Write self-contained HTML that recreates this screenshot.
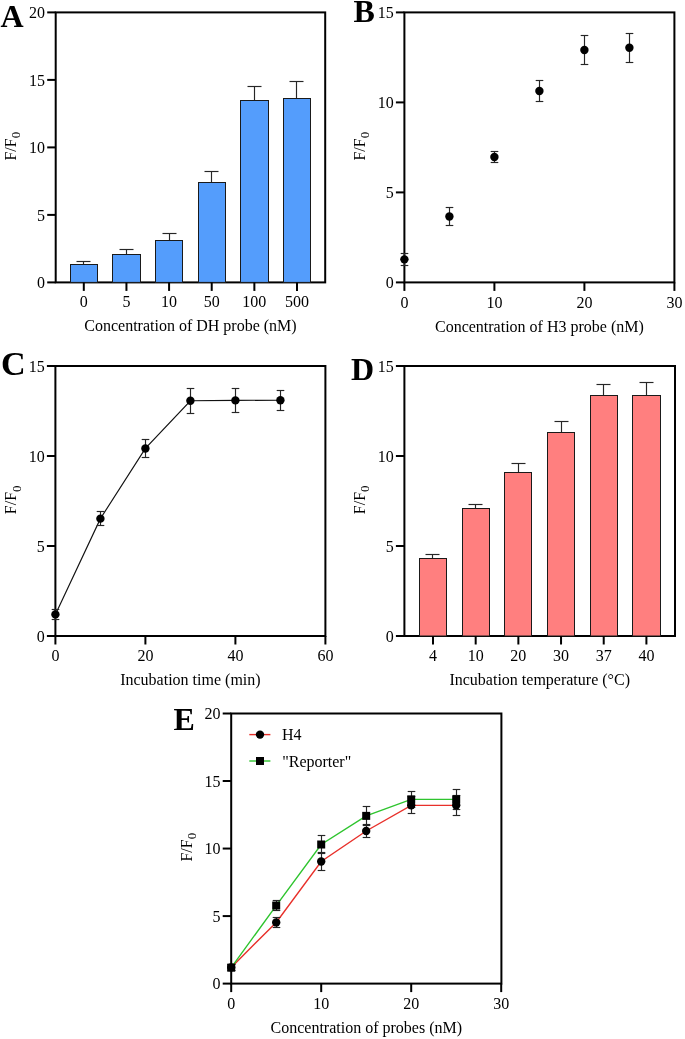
<!DOCTYPE html>
<html><head><meta charset="utf-8"><style>
html,body{margin:0;padding:0;background:#fff;}
svg{display:block;will-change:transform;}
text{font-family:"Liberation Serif", serif;fill:#000;}
</style></head><body>
<svg width="685" height="1039" viewBox="0 0 685 1039">
<rect width="685" height="1039" fill="#fff"/>
<rect x="55.70" y="12.40" width="269.50" height="270.00" fill="none" stroke="#000" stroke-width="2.0"/>
<line x1="47.20" y1="282.40" x2="55.70" y2="282.40" stroke="#000" stroke-width="2.0"/>
<text x="45.00" y="288.20" text-anchor="end" font-size="16" font-weight="normal" >0</text>
<line x1="47.20" y1="214.90" x2="55.70" y2="214.90" stroke="#000" stroke-width="2.0"/>
<text x="45.00" y="220.70" text-anchor="end" font-size="16" font-weight="normal" >5</text>
<line x1="47.20" y1="147.40" x2="55.70" y2="147.40" stroke="#000" stroke-width="2.0"/>
<text x="45.00" y="153.20" text-anchor="end" font-size="16" font-weight="normal" >10</text>
<line x1="47.20" y1="79.90" x2="55.70" y2="79.90" stroke="#000" stroke-width="2.0"/>
<text x="45.00" y="85.70" text-anchor="end" font-size="16" font-weight="normal" >15</text>
<line x1="47.20" y1="12.40" x2="55.70" y2="12.40" stroke="#000" stroke-width="2.0"/>
<text x="45.00" y="18.20" text-anchor="end" font-size="16" font-weight="normal" >20</text>
<line x1="83.50" y1="261.50" x2="83.50" y2="264.98" stroke="#262626" stroke-width="1.15"/>
<line x1="76.50" y1="261.50" x2="90.50" y2="261.50" stroke="#262626" stroke-width="1.15"/>
<rect x="70.50" y="264.50" width="27.00" height="17.90" fill="#549dfc" stroke="#1a1a1a" stroke-width="1"/>
<line x1="126.50" y1="249.50" x2="126.50" y2="254.05" stroke="#262626" stroke-width="1.15"/>
<line x1="119.50" y1="249.50" x2="133.50" y2="249.50" stroke="#262626" stroke-width="1.15"/>
<rect x="112.50" y="254.50" width="28.00" height="27.90" fill="#549dfc" stroke="#1a1a1a" stroke-width="1"/>
<line x1="169.50" y1="233.50" x2="169.50" y2="240.55" stroke="#262626" stroke-width="1.15"/>
<line x1="162.50" y1="233.50" x2="176.50" y2="233.50" stroke="#262626" stroke-width="1.15"/>
<rect x="155.50" y="240.50" width="27.00" height="41.90" fill="#549dfc" stroke="#1a1a1a" stroke-width="1"/>
<line x1="211.50" y1="171.50" x2="211.50" y2="182.63" stroke="#262626" stroke-width="1.15"/>
<line x1="204.50" y1="171.50" x2="218.50" y2="171.50" stroke="#262626" stroke-width="1.15"/>
<rect x="198.50" y="182.50" width="27.00" height="99.90" fill="#549dfc" stroke="#1a1a1a" stroke-width="1"/>
<line x1="254.50" y1="86.50" x2="254.50" y2="100.28" stroke="#262626" stroke-width="1.15"/>
<line x1="247.50" y1="86.50" x2="261.50" y2="86.50" stroke="#262626" stroke-width="1.15"/>
<rect x="240.50" y="100.50" width="28.00" height="181.90" fill="#549dfc" stroke="#1a1a1a" stroke-width="1"/>
<line x1="296.50" y1="81.50" x2="296.50" y2="98.39" stroke="#262626" stroke-width="1.15"/>
<line x1="289.50" y1="81.50" x2="303.50" y2="81.50" stroke="#262626" stroke-width="1.15"/>
<rect x="283.50" y="98.50" width="27.00" height="183.90" fill="#549dfc" stroke="#1a1a1a" stroke-width="1"/>
<line x1="83.80" y1="282.40" x2="83.80" y2="290.90" stroke="#000" stroke-width="2.0"/>
<text x="83.80" y="307.20" text-anchor="middle" font-size="16" font-weight="normal" >0</text>
<line x1="126.44" y1="282.40" x2="126.44" y2="290.90" stroke="#000" stroke-width="2.0"/>
<text x="126.44" y="307.20" text-anchor="middle" font-size="16" font-weight="normal" >5</text>
<line x1="169.08" y1="282.40" x2="169.08" y2="290.90" stroke="#000" stroke-width="2.0"/>
<text x="169.08" y="307.20" text-anchor="middle" font-size="16" font-weight="normal" >10</text>
<line x1="211.72" y1="282.40" x2="211.72" y2="290.90" stroke="#000" stroke-width="2.0"/>
<text x="211.72" y="307.20" text-anchor="middle" font-size="16" font-weight="normal" >50</text>
<line x1="254.36" y1="282.40" x2="254.36" y2="290.90" stroke="#000" stroke-width="2.0"/>
<text x="254.36" y="307.20" text-anchor="middle" font-size="16" font-weight="normal" >100</text>
<line x1="297.00" y1="282.40" x2="297.00" y2="290.90" stroke="#000" stroke-width="2.0"/>
<text x="297.00" y="307.20" text-anchor="middle" font-size="16" font-weight="normal" >500</text>
<text x="190.45" y="331.40" text-anchor="middle" font-size="16" font-weight="normal" >Concentration of DH probe (nM)</text>
<text transform="translate(15.90,146.20) rotate(-90)" text-anchor="middle" font-size="16">F/F<tspan font-size="13" dy="4.3">0</tspan></text>
<text x="0.50" y="26.80" text-anchor="start" font-size="32" font-weight="bold" >A</text>
<rect x="404.40" y="12.40" width="270.00" height="270.00" fill="none" stroke="#000" stroke-width="2.0"/>
<line x1="395.90" y1="282.40" x2="404.40" y2="282.40" stroke="#000" stroke-width="2.0"/>
<text x="393.70" y="288.20" text-anchor="end" font-size="16" font-weight="normal" >0</text>
<line x1="395.90" y1="192.40" x2="404.40" y2="192.40" stroke="#000" stroke-width="2.0"/>
<text x="393.70" y="198.20" text-anchor="end" font-size="16" font-weight="normal" >5</text>
<line x1="395.90" y1="102.40" x2="404.40" y2="102.40" stroke="#000" stroke-width="2.0"/>
<text x="393.70" y="108.20" text-anchor="end" font-size="16" font-weight="normal" >10</text>
<line x1="395.90" y1="12.40" x2="404.40" y2="12.40" stroke="#000" stroke-width="2.0"/>
<text x="393.70" y="18.20" text-anchor="end" font-size="16" font-weight="normal" >15</text>
<line x1="404.40" y1="282.40" x2="404.40" y2="290.90" stroke="#000" stroke-width="2.0"/>
<text x="404.40" y="307.90" text-anchor="middle" font-size="16" font-weight="normal" >0</text>
<line x1="494.40" y1="282.40" x2="494.40" y2="290.90" stroke="#000" stroke-width="2.0"/>
<text x="494.40" y="307.90" text-anchor="middle" font-size="16" font-weight="normal" >10</text>
<line x1="584.40" y1="282.40" x2="584.40" y2="290.90" stroke="#000" stroke-width="2.0"/>
<text x="584.40" y="307.90" text-anchor="middle" font-size="16" font-weight="normal" >20</text>
<line x1="674.40" y1="282.40" x2="674.40" y2="290.90" stroke="#000" stroke-width="2.0"/>
<text x="674.40" y="307.90" text-anchor="middle" font-size="16" font-weight="normal" >30</text>
<line x1="404.50" y1="253.50" x2="404.50" y2="265.50" stroke="#262626" stroke-width="1.15"/>
<line x1="400.70" y1="253.50" x2="408.30" y2="253.50" stroke="#262626" stroke-width="1.15"/>
<line x1="400.70" y1="265.50" x2="408.30" y2="265.50" stroke="#262626" stroke-width="1.15"/>
<circle cx="404.40" cy="259.36" r="4.2" fill="#000"/>
<line x1="449.50" y1="207.50" x2="449.50" y2="225.50" stroke="#262626" stroke-width="1.15"/>
<line x1="445.70" y1="207.50" x2="453.30" y2="207.50" stroke="#262626" stroke-width="1.15"/>
<line x1="445.70" y1="225.50" x2="453.30" y2="225.50" stroke="#262626" stroke-width="1.15"/>
<circle cx="449.40" cy="216.52" r="4.2" fill="#000"/>
<line x1="494.50" y1="151.50" x2="494.50" y2="162.50" stroke="#262626" stroke-width="1.15"/>
<line x1="490.70" y1="151.50" x2="498.30" y2="151.50" stroke="#262626" stroke-width="1.15"/>
<line x1="490.70" y1="162.50" x2="498.30" y2="162.50" stroke="#262626" stroke-width="1.15"/>
<circle cx="494.40" cy="156.94" r="4.2" fill="#000"/>
<line x1="539.50" y1="80.50" x2="539.50" y2="101.50" stroke="#262626" stroke-width="1.15"/>
<line x1="535.70" y1="80.50" x2="543.30" y2="80.50" stroke="#262626" stroke-width="1.15"/>
<line x1="535.70" y1="101.50" x2="543.30" y2="101.50" stroke="#262626" stroke-width="1.15"/>
<circle cx="539.40" cy="91.06" r="4.2" fill="#000"/>
<line x1="584.50" y1="35.50" x2="584.50" y2="64.50" stroke="#262626" stroke-width="1.15"/>
<line x1="580.70" y1="35.50" x2="588.30" y2="35.50" stroke="#262626" stroke-width="1.15"/>
<line x1="580.70" y1="64.50" x2="588.30" y2="64.50" stroke="#262626" stroke-width="1.15"/>
<circle cx="584.40" cy="50.02" r="4.2" fill="#000"/>
<line x1="629.50" y1="33.50" x2="629.50" y2="62.50" stroke="#262626" stroke-width="1.15"/>
<line x1="625.70" y1="33.50" x2="633.30" y2="33.50" stroke="#262626" stroke-width="1.15"/>
<line x1="625.70" y1="62.50" x2="633.30" y2="62.50" stroke="#262626" stroke-width="1.15"/>
<circle cx="629.40" cy="47.68" r="4.2" fill="#000"/>
<text x="539.40" y="331.70" text-anchor="middle" font-size="16" font-weight="normal" >Concentration of H3 probe (nM)</text>
<text transform="translate(365.00,146.20) rotate(-90)" text-anchor="middle" font-size="16">F/F<tspan font-size="13" dy="4.3">0</tspan></text>
<text x="353.50" y="21.70" text-anchor="start" font-size="32" font-weight="bold" >B</text>
<rect x="55.40" y="366.00" width="270.00" height="270.00" fill="none" stroke="#000" stroke-width="2.0"/>
<line x1="46.90" y1="636.00" x2="55.40" y2="636.00" stroke="#000" stroke-width="2.0"/>
<text x="44.70" y="641.80" text-anchor="end" font-size="16" font-weight="normal" >0</text>
<line x1="46.90" y1="546.00" x2="55.40" y2="546.00" stroke="#000" stroke-width="2.0"/>
<text x="44.70" y="551.80" text-anchor="end" font-size="16" font-weight="normal" >5</text>
<line x1="46.90" y1="456.00" x2="55.40" y2="456.00" stroke="#000" stroke-width="2.0"/>
<text x="44.70" y="461.80" text-anchor="end" font-size="16" font-weight="normal" >10</text>
<line x1="46.90" y1="366.00" x2="55.40" y2="366.00" stroke="#000" stroke-width="2.0"/>
<text x="44.70" y="371.80" text-anchor="end" font-size="16" font-weight="normal" >15</text>
<line x1="55.40" y1="636.00" x2="55.40" y2="644.50" stroke="#000" stroke-width="2.0"/>
<text x="55.40" y="661.40" text-anchor="middle" font-size="16" font-weight="normal" >0</text>
<line x1="145.40" y1="636.00" x2="145.40" y2="644.50" stroke="#000" stroke-width="2.0"/>
<text x="145.40" y="661.40" text-anchor="middle" font-size="16" font-weight="normal" >20</text>
<line x1="235.40" y1="636.00" x2="235.40" y2="644.50" stroke="#000" stroke-width="2.0"/>
<text x="235.40" y="661.40" text-anchor="middle" font-size="16" font-weight="normal" >40</text>
<line x1="325.40" y1="636.00" x2="325.40" y2="644.50" stroke="#000" stroke-width="2.0"/>
<text x="325.40" y="661.40" text-anchor="middle" font-size="16" font-weight="normal" >60</text>
<path d="M55.40,614.40 L100.40,518.64 L145.40,448.44 L190.40,400.74 L235.40,400.38 L280.40,400.20" fill="none" stroke="#111" stroke-width="1.15"/>
<line x1="55.50" y1="609.50" x2="55.50" y2="619.50" stroke="#262626" stroke-width="1.15"/>
<line x1="51.70" y1="609.50" x2="59.30" y2="609.50" stroke="#262626" stroke-width="1.15"/>
<line x1="51.70" y1="619.50" x2="59.30" y2="619.50" stroke="#262626" stroke-width="1.15"/>
<circle cx="55.40" cy="614.40" r="4.2" fill="#000"/>
<line x1="100.50" y1="511.50" x2="100.50" y2="525.50" stroke="#262626" stroke-width="1.15"/>
<line x1="96.70" y1="511.50" x2="104.30" y2="511.50" stroke="#262626" stroke-width="1.15"/>
<line x1="96.70" y1="525.50" x2="104.30" y2="525.50" stroke="#262626" stroke-width="1.15"/>
<circle cx="100.40" cy="518.64" r="4.2" fill="#000"/>
<line x1="145.50" y1="439.50" x2="145.50" y2="457.50" stroke="#262626" stroke-width="1.15"/>
<line x1="141.70" y1="439.50" x2="149.30" y2="439.50" stroke="#262626" stroke-width="1.15"/>
<line x1="141.70" y1="457.50" x2="149.30" y2="457.50" stroke="#262626" stroke-width="1.15"/>
<circle cx="145.40" cy="448.44" r="4.2" fill="#000"/>
<line x1="190.50" y1="388.50" x2="190.50" y2="413.50" stroke="#262626" stroke-width="1.15"/>
<line x1="186.70" y1="388.50" x2="194.30" y2="388.50" stroke="#262626" stroke-width="1.15"/>
<line x1="186.70" y1="413.50" x2="194.30" y2="413.50" stroke="#262626" stroke-width="1.15"/>
<circle cx="190.40" cy="400.74" r="4.2" fill="#000"/>
<line x1="235.50" y1="388.50" x2="235.50" y2="412.50" stroke="#262626" stroke-width="1.15"/>
<line x1="231.70" y1="388.50" x2="239.30" y2="388.50" stroke="#262626" stroke-width="1.15"/>
<line x1="231.70" y1="412.50" x2="239.30" y2="412.50" stroke="#262626" stroke-width="1.15"/>
<circle cx="235.40" cy="400.38" r="4.2" fill="#000"/>
<line x1="280.50" y1="390.50" x2="280.50" y2="410.50" stroke="#262626" stroke-width="1.15"/>
<line x1="276.70" y1="390.50" x2="284.30" y2="390.50" stroke="#262626" stroke-width="1.15"/>
<line x1="276.70" y1="410.50" x2="284.30" y2="410.50" stroke="#262626" stroke-width="1.15"/>
<circle cx="280.40" cy="400.20" r="4.2" fill="#000"/>
<text x="190.40" y="685.00" text-anchor="middle" font-size="16" font-weight="normal" >Incubation time (min)</text>
<text transform="translate(16.40,499.80) rotate(-90)" text-anchor="middle" font-size="16">F/F<tspan font-size="13" dy="4.3">0</tspan></text>
<text x="0.90" y="375.00" text-anchor="start" font-size="34.2" font-weight="bold" >C</text>
<rect x="404.40" y="366.00" width="270.60" height="270.00" fill="none" stroke="#000" stroke-width="2.0"/>
<line x1="395.90" y1="636.00" x2="404.40" y2="636.00" stroke="#000" stroke-width="2.0"/>
<text x="393.70" y="641.80" text-anchor="end" font-size="16" font-weight="normal" >0</text>
<line x1="395.90" y1="546.00" x2="404.40" y2="546.00" stroke="#000" stroke-width="2.0"/>
<text x="393.70" y="551.80" text-anchor="end" font-size="16" font-weight="normal" >5</text>
<line x1="395.90" y1="456.00" x2="404.40" y2="456.00" stroke="#000" stroke-width="2.0"/>
<text x="393.70" y="461.80" text-anchor="end" font-size="16" font-weight="normal" >10</text>
<line x1="395.90" y1="366.00" x2="404.40" y2="366.00" stroke="#000" stroke-width="2.0"/>
<text x="393.70" y="371.80" text-anchor="end" font-size="16" font-weight="normal" >15</text>
<line x1="432.50" y1="554.50" x2="432.50" y2="558.60" stroke="#262626" stroke-width="1.15"/>
<line x1="425.50" y1="554.50" x2="439.50" y2="554.50" stroke="#262626" stroke-width="1.15"/>
<rect x="419.50" y="558.50" width="27.00" height="77.50" fill="#ff7f7f" stroke="#1a1a1a" stroke-width="1"/>
<line x1="475.50" y1="504.50" x2="475.50" y2="508.20" stroke="#262626" stroke-width="1.15"/>
<line x1="468.50" y1="504.50" x2="482.50" y2="504.50" stroke="#262626" stroke-width="1.15"/>
<rect x="462.50" y="508.50" width="27.00" height="127.50" fill="#ff7f7f" stroke="#1a1a1a" stroke-width="1"/>
<line x1="518.50" y1="463.50" x2="518.50" y2="472.20" stroke="#262626" stroke-width="1.15"/>
<line x1="511.50" y1="463.50" x2="525.50" y2="463.50" stroke="#262626" stroke-width="1.15"/>
<rect x="504.50" y="472.50" width="27.00" height="163.50" fill="#ff7f7f" stroke="#1a1a1a" stroke-width="1"/>
<line x1="561.50" y1="421.50" x2="561.50" y2="432.78" stroke="#262626" stroke-width="1.15"/>
<line x1="554.50" y1="421.50" x2="568.50" y2="421.50" stroke="#262626" stroke-width="1.15"/>
<rect x="547.50" y="432.50" width="27.00" height="203.50" fill="#ff7f7f" stroke="#1a1a1a" stroke-width="1"/>
<line x1="603.50" y1="384.50" x2="603.50" y2="395.34" stroke="#262626" stroke-width="1.15"/>
<line x1="596.50" y1="384.50" x2="610.50" y2="384.50" stroke="#262626" stroke-width="1.15"/>
<rect x="590.50" y="395.50" width="27.00" height="240.50" fill="#ff7f7f" stroke="#1a1a1a" stroke-width="1"/>
<line x1="646.50" y1="382.50" x2="646.50" y2="395.88" stroke="#262626" stroke-width="1.15"/>
<line x1="639.50" y1="382.50" x2="653.50" y2="382.50" stroke="#262626" stroke-width="1.15"/>
<rect x="632.50" y="395.50" width="28.00" height="240.50" fill="#ff7f7f" stroke="#1a1a1a" stroke-width="1"/>
<line x1="433.00" y1="636.00" x2="433.00" y2="644.50" stroke="#000" stroke-width="2.0"/>
<text x="433.00" y="660.90" text-anchor="middle" font-size="16" font-weight="normal" >4</text>
<line x1="475.68" y1="636.00" x2="475.68" y2="644.50" stroke="#000" stroke-width="2.0"/>
<text x="475.68" y="660.90" text-anchor="middle" font-size="16" font-weight="normal" >10</text>
<line x1="518.36" y1="636.00" x2="518.36" y2="644.50" stroke="#000" stroke-width="2.0"/>
<text x="518.36" y="660.90" text-anchor="middle" font-size="16" font-weight="normal" >20</text>
<line x1="561.04" y1="636.00" x2="561.04" y2="644.50" stroke="#000" stroke-width="2.0"/>
<text x="561.04" y="660.90" text-anchor="middle" font-size="16" font-weight="normal" >30</text>
<line x1="603.72" y1="636.00" x2="603.72" y2="644.50" stroke="#000" stroke-width="2.0"/>
<text x="603.72" y="660.90" text-anchor="middle" font-size="16" font-weight="normal" >37</text>
<line x1="646.40" y1="636.00" x2="646.40" y2="644.50" stroke="#000" stroke-width="2.0"/>
<text x="646.40" y="660.90" text-anchor="middle" font-size="16" font-weight="normal" >40</text>
<text x="539.70" y="685.00" text-anchor="middle" font-size="16" font-weight="normal" >Incubation temperature (°C)</text>
<text transform="translate(365.00,499.80) rotate(-90)" text-anchor="middle" font-size="16">F/F<tspan font-size="13" dy="4.3">0</tspan></text>
<text x="350.90" y="380.00" text-anchor="start" font-size="32" font-weight="bold" >D</text>
<rect x="231.20" y="713.50" width="270.20" height="270.10" fill="none" stroke="#000" stroke-width="2.0"/>
<line x1="222.70" y1="983.60" x2="231.20" y2="983.60" stroke="#000" stroke-width="2.0"/>
<text x="220.50" y="989.40" text-anchor="end" font-size="16" font-weight="normal" >0</text>
<line x1="222.70" y1="916.08" x2="231.20" y2="916.08" stroke="#000" stroke-width="2.0"/>
<text x="220.50" y="921.88" text-anchor="end" font-size="16" font-weight="normal" >5</text>
<line x1="222.70" y1="848.55" x2="231.20" y2="848.55" stroke="#000" stroke-width="2.0"/>
<text x="220.50" y="854.35" text-anchor="end" font-size="16" font-weight="normal" >10</text>
<line x1="222.70" y1="781.02" x2="231.20" y2="781.02" stroke="#000" stroke-width="2.0"/>
<text x="220.50" y="786.82" text-anchor="end" font-size="16" font-weight="normal" >15</text>
<line x1="222.70" y1="713.50" x2="231.20" y2="713.50" stroke="#000" stroke-width="2.0"/>
<text x="220.50" y="719.30" text-anchor="end" font-size="16" font-weight="normal" >20</text>
<line x1="231.20" y1="983.60" x2="231.20" y2="992.10" stroke="#000" stroke-width="2.0"/>
<text x="231.20" y="1008.90" text-anchor="middle" font-size="16" font-weight="normal" >0</text>
<line x1="321.20" y1="983.60" x2="321.20" y2="992.10" stroke="#000" stroke-width="2.0"/>
<text x="321.20" y="1008.90" text-anchor="middle" font-size="16" font-weight="normal" >10</text>
<line x1="411.20" y1="983.60" x2="411.20" y2="992.10" stroke="#000" stroke-width="2.0"/>
<text x="411.20" y="1008.90" text-anchor="middle" font-size="16" font-weight="normal" >20</text>
<line x1="501.20" y1="983.60" x2="501.20" y2="992.10" stroke="#000" stroke-width="2.0"/>
<text x="501.20" y="1008.90" text-anchor="middle" font-size="16" font-weight="normal" >30</text>
<path d="M231.20,967.39 L276.20,922.42 L321.20,861.51 L366.20,830.99 L411.20,805.33 L456.20,805.33" fill="none" stroke="#e8302a" stroke-width="1.4"/>
<path d="M231.20,967.66 L276.20,905.54 L321.20,844.50 L366.20,815.87 L411.20,799.39 L456.20,799.39" fill="none" stroke="#2ec42e" stroke-width="1.4"/>
<line x1="231.50" y1="964.50" x2="231.50" y2="970.50" stroke="#262626" stroke-width="1.15"/>
<line x1="227.70" y1="964.50" x2="235.30" y2="964.50" stroke="#262626" stroke-width="1.15"/>
<line x1="227.70" y1="970.50" x2="235.30" y2="970.50" stroke="#262626" stroke-width="1.15"/>
<line x1="276.50" y1="917.50" x2="276.50" y2="927.50" stroke="#262626" stroke-width="1.15"/>
<line x1="272.70" y1="917.50" x2="280.30" y2="917.50" stroke="#262626" stroke-width="1.15"/>
<line x1="272.70" y1="927.50" x2="280.30" y2="927.50" stroke="#262626" stroke-width="1.15"/>
<line x1="321.50" y1="852.50" x2="321.50" y2="870.50" stroke="#262626" stroke-width="1.15"/>
<line x1="317.70" y1="852.50" x2="325.30" y2="852.50" stroke="#262626" stroke-width="1.15"/>
<line x1="317.70" y1="870.50" x2="325.30" y2="870.50" stroke="#262626" stroke-width="1.15"/>
<line x1="366.50" y1="824.50" x2="366.50" y2="837.50" stroke="#262626" stroke-width="1.15"/>
<line x1="362.70" y1="824.50" x2="370.30" y2="824.50" stroke="#262626" stroke-width="1.15"/>
<line x1="362.70" y1="837.50" x2="370.30" y2="837.50" stroke="#262626" stroke-width="1.15"/>
<line x1="411.50" y1="796.50" x2="411.50" y2="813.50" stroke="#262626" stroke-width="1.15"/>
<line x1="407.70" y1="796.50" x2="415.30" y2="796.50" stroke="#262626" stroke-width="1.15"/>
<line x1="407.70" y1="813.50" x2="415.30" y2="813.50" stroke="#262626" stroke-width="1.15"/>
<line x1="456.50" y1="795.50" x2="456.50" y2="815.50" stroke="#262626" stroke-width="1.15"/>
<line x1="452.70" y1="795.50" x2="460.30" y2="795.50" stroke="#262626" stroke-width="1.15"/>
<line x1="452.70" y1="815.50" x2="460.30" y2="815.50" stroke="#262626" stroke-width="1.15"/>
<line x1="231.50" y1="964.50" x2="231.50" y2="970.50" stroke="#262626" stroke-width="1.15"/>
<line x1="227.70" y1="964.50" x2="235.30" y2="964.50" stroke="#262626" stroke-width="1.15"/>
<line x1="227.70" y1="970.50" x2="235.30" y2="970.50" stroke="#262626" stroke-width="1.15"/>
<line x1="276.50" y1="900.50" x2="276.50" y2="910.50" stroke="#262626" stroke-width="1.15"/>
<line x1="272.70" y1="900.50" x2="280.30" y2="900.50" stroke="#262626" stroke-width="1.15"/>
<line x1="272.70" y1="910.50" x2="280.30" y2="910.50" stroke="#262626" stroke-width="1.15"/>
<line x1="321.50" y1="835.50" x2="321.50" y2="853.50" stroke="#262626" stroke-width="1.15"/>
<line x1="317.70" y1="835.50" x2="325.30" y2="835.50" stroke="#262626" stroke-width="1.15"/>
<line x1="317.70" y1="853.50" x2="325.30" y2="853.50" stroke="#262626" stroke-width="1.15"/>
<line x1="366.50" y1="806.50" x2="366.50" y2="825.50" stroke="#262626" stroke-width="1.15"/>
<line x1="362.70" y1="806.50" x2="370.30" y2="806.50" stroke="#262626" stroke-width="1.15"/>
<line x1="362.70" y1="825.50" x2="370.30" y2="825.50" stroke="#262626" stroke-width="1.15"/>
<line x1="411.50" y1="791.50" x2="411.50" y2="807.50" stroke="#262626" stroke-width="1.15"/>
<line x1="407.70" y1="791.50" x2="415.30" y2="791.50" stroke="#262626" stroke-width="1.15"/>
<line x1="407.70" y1="807.50" x2="415.30" y2="807.50" stroke="#262626" stroke-width="1.15"/>
<line x1="456.50" y1="789.50" x2="456.50" y2="809.50" stroke="#262626" stroke-width="1.15"/>
<line x1="452.70" y1="789.50" x2="460.30" y2="789.50" stroke="#262626" stroke-width="1.15"/>
<line x1="452.70" y1="809.50" x2="460.30" y2="809.50" stroke="#262626" stroke-width="1.15"/>
<circle cx="231.20" cy="967.39" r="4.2" fill="#000"/>
<circle cx="276.20" cy="922.42" r="4.2" fill="#000"/>
<circle cx="321.20" cy="861.51" r="4.2" fill="#000"/>
<circle cx="366.20" cy="830.99" r="4.2" fill="#000"/>
<circle cx="411.20" cy="805.33" r="4.2" fill="#000"/>
<circle cx="456.20" cy="805.33" r="4.2" fill="#000"/>
<rect x="227.20" y="963.66" width="8.0" height="8.0" fill="#000"/>
<rect x="272.20" y="901.54" width="8.0" height="8.0" fill="#000"/>
<rect x="317.20" y="840.50" width="8.0" height="8.0" fill="#000"/>
<rect x="362.20" y="811.87" width="8.0" height="8.0" fill="#000"/>
<rect x="407.20" y="795.39" width="8.0" height="8.0" fill="#000"/>
<rect x="452.20" y="795.39" width="8.0" height="8.0" fill="#000"/>
<line x1="249.30" y1="734.60" x2="270.40" y2="734.60" stroke="#e8302a" stroke-width="1.4"/>
<circle cx="260.00" cy="734.60" r="4.2" fill="#000"/>
<line x1="249.30" y1="761.00" x2="270.40" y2="761.00" stroke="#2ec42e" stroke-width="1.4"/>
<rect x="256.00" y="757.00" width="8.0" height="8.0" fill="#000"/>
<text x="282.00" y="740.40" text-anchor="start" font-size="16" font-weight="normal" >H4</text>
<text x="282.20" y="766.50" text-anchor="start" font-size="16" font-weight="normal" >"Reporter"</text>
<text x="366.30" y="1033.00" text-anchor="middle" font-size="16" font-weight="normal" >Concentration of probes (nM)</text>
<text transform="translate(192.00,847.20) rotate(-90)" text-anchor="middle" font-size="16">F/F<tspan font-size="13" dy="4.3">0</tspan></text>
<text x="173.60" y="730.00" text-anchor="start" font-size="32" font-weight="bold" >E</text>
</svg>
</body></html>
